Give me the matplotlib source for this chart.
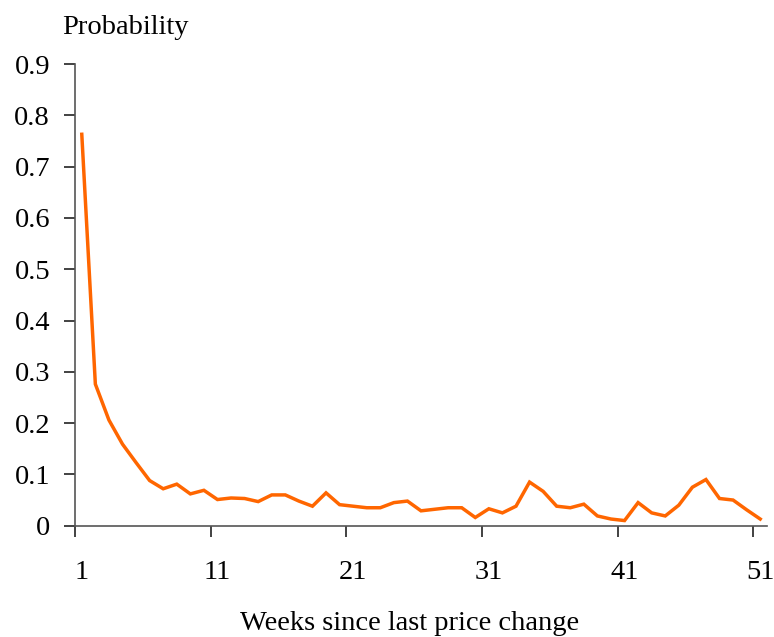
import matplotlib
matplotlib.use('Agg')
import matplotlib.pyplot as plt

weeks = list(range(1, 52))
probability = [0.763, 0.276, 0.206, 0.159, 0.123, 0.088, 0.072, 0.081, 0.062, 0.069,
               0.051, 0.054, 0.053, 0.047, 0.060, 0.060, 0.048, 0.038, 0.064, 0.041,
               0.038, 0.035, 0.035, 0.045, 0.048, 0.029, 0.032, 0.035, 0.035, 0.016,
               0.033, 0.025, 0.038, 0.085, 0.067, 0.038, 0.035, 0.042, 0.019, 0.013,
               0.010, 0.045, 0.025, 0.019, 0.040, 0.075, 0.090, 0.053, 0.050, 0.031,
               0.013]
xtick_labels = [1, 11, 21, 31, 41, 51]
yticks = [0, 0.1, 0.2, 0.3, 0.4, 0.5, 0.6, 0.7, 0.8, 0.9]

plt.rcParams['font.family'] = ['Liberation Serif', 'DejaVu Serif']
plt.rcParams['font.size'] = 20.5

fig = plt.figure(figsize=(7.74, 6.37), dpi=100)
ax = fig.add_axes([75/774, 1 - 525.7/637, 692/774, (525.7 - 64)/637])

ax.plot(weeks, probability, color='#FF6600', linewidth=2.5, solid_joinstyle='miter')

ax.set_xlim(0.5, 51.5)
ax.set_ylim(0, 0.9)
ax.set_yticks(yticks)
ax.set_yticklabels(['0' if v == 0 else '%.1f' % v for v in yticks])

# ticks between categories, labels on the category
ax.set_xticks([w - 0.5 for w in xtick_labels])
ax.set_xticklabels([])
ax.set_xticks(xtick_labels, minor=True)
ax.set_xticklabels([str(w) for w in xtick_labels], minor=True)
ax.tick_params(axis='x', which='major', direction='out', length=8, width=1.2, color='#222222')
ax.tick_params(axis='x', which='minor', length=0, pad=25)
ax.tick_params(axis='y', direction='out', length=8, width=1.2, color='#222222', pad=10)

for s in ['top', 'right']:
    ax.spines[s].set_visible(False)
for s in ['left', 'bottom']:
    ax.spines[s].set_color('#555555')
    ax.spines[s].set_linewidth(1.2)

fig.text(62/774, 1 - 27/637, 'Probability', ha='left', va='center')
fig.text(410/774, 1 - 623/637, 'Weeks since last price change', ha='center', va='center')

fig.savefig('out.png', dpi=100)
